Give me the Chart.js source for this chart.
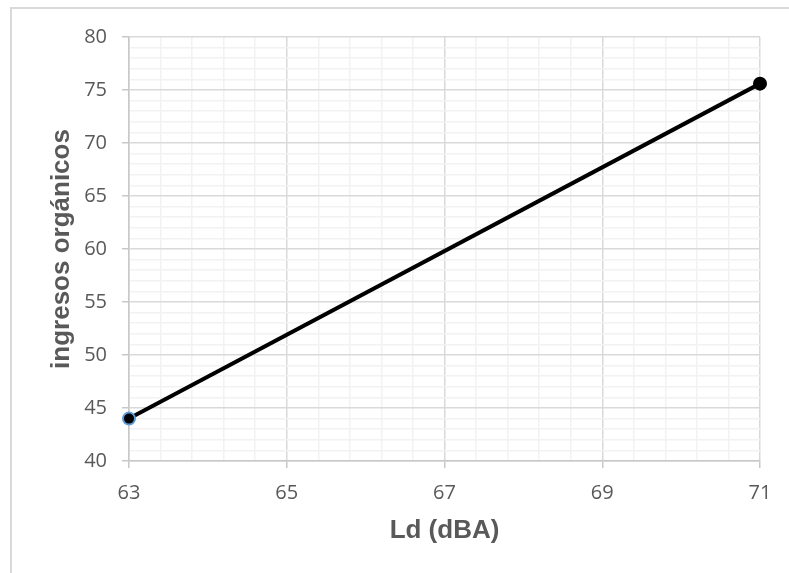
<!DOCTYPE html>
<html lang="es">
<head>
    <meta charset="UTF-8">
    <script src="https://cdn.jsdelivr.net/npm/chart.js@4.4.0/dist/chart.umd.min.js"></script>
    <title>ingresos orgánicos vs Ld</title>
    <style>
        body { margin: 0; background: white; }
        .frame {
            position: absolute;
            left: 10px;
            top: 7px;
            width: 779px;
            height: 566px;
            border-top: 2px solid #d9d9d9;
            border-left: 2px solid #d9d9d9;
        }
        canvas { position: absolute; left: 0; top: 0; }
    </style>
</head>
<body>
    <div class="frame"></div>
    <canvas id="ldChart" width="789" height="573"></canvas>
<script>
    // datos
    var ldValues = [63, 71];
    var ingresos = [44, 75.6];
    var pointBorders = ['#5b9bd5', '#000000'];

    var xMin = 63, xMax = 71, xMajor = 2, xMinor = 0.4;
    var yMin = 40, yMax = 80, yMajor = 5, yMinor = 1;

    function isMajor(v, start, step) {
        var r = (v - start) / step;
        return Math.abs(r - Math.round(r)) < 1e-6;
    }

    var tickFont = { family: 'Open Sans', size: 20 };
    var titleFont = { family: 'Liberation Sans', size: 26, weight: 'bold' };

    var ctx = document.getElementById('ldChart').getContext('2d');
    var ldChart = new Chart(ctx, {
        type: 'scatter',
        data: {
            datasets: [{
                label: 'ingresos orgánicos',
                data: ldValues.map((x, i) => ({ x: x, y: ingresos[i] })),
                showLine: true,
                borderColor: '#000000',
                borderWidth: 4,
                pointRadius: 6,
                pointBackgroundColor: '#000000',
                pointBorderColor: pointBorders,
                pointBorderWidth: 2,
                clip: false
            }]
        },
        options: {
            responsive: false,
            animation: false,
            layout: { padding: { top: 37, right: 29, left: 0, bottom: 0 } },
            plugins: {
                legend: { display: false },
                tooltip: { enabled: false }
            },
            scales: {
                x: {
                    type: 'linear',
                    min: xMin,
                    max: xMax,
                    afterFit: function(scale) { scale.height = 112; },
                    ticks: {
                        stepSize: xMinor,
                        autoSkip: false,
                        maxRotation: 0,
                        color: '#595959',
                        font: tickFont,
                        padding: 13,
                        callback: function(v) { return isMajor(v, xMin, xMajor) ? Math.round(v) : ''; }
                    },
                    grid: {
                        color: c => isMajor(c.tick.value, xMin, xMajor) ? '#d9d9d9' : '#f2f2f2',
                        tickColor: c => isMajor(c.tick.value, xMin, xMajor) ? '#c8c8c8' : 'rgba(0,0,0,0)',
                        tickLength: 7,
                        lineWidth: 1.5
                    },
                    border: { color: '#c8c8c8', width: 1.5 },
                    title: {
                        display: true,
                        text: 'Ld (dBA)',
                        color: '#595959',
                        font: titleFont,
                        padding: { top: 0, bottom: 27 }
                    }
                },
                y: {
                    type: 'linear',
                    min: yMin,
                    max: yMax,
                    afterFit: function(scale) { scale.width = 129; },
                    ticks: {
                        stepSize: yMinor,
                        autoSkip: false,
                        color: '#595959',
                        font: tickFont,
                        padding: 15,
                        callback: function(v) { return isMajor(v, yMin, yMajor) ? v : ''; }
                    },
                    grid: {
                        color: c => isMajor(c.tick.value, yMin, yMajor) ? '#d9d9d9' : '#f2f2f2',
                        tickColor: c => isMajor(c.tick.value, yMin, yMajor) ? '#c8c8c8' : 'rgba(0,0,0,0)',
                        tickLength: 7,
                        lineWidth: 1.5
                    },
                    border: { color: '#c8c8c8', width: 1.5 },
                    title: {
                        display: true,
                        text: 'ingresos orgánicos',
                        color: '#595959',
                        font: titleFont,
                        padding: { top: 46, bottom: 0 }
                    }
                }
            }
        }
    });
</script>
</body>
</html>
